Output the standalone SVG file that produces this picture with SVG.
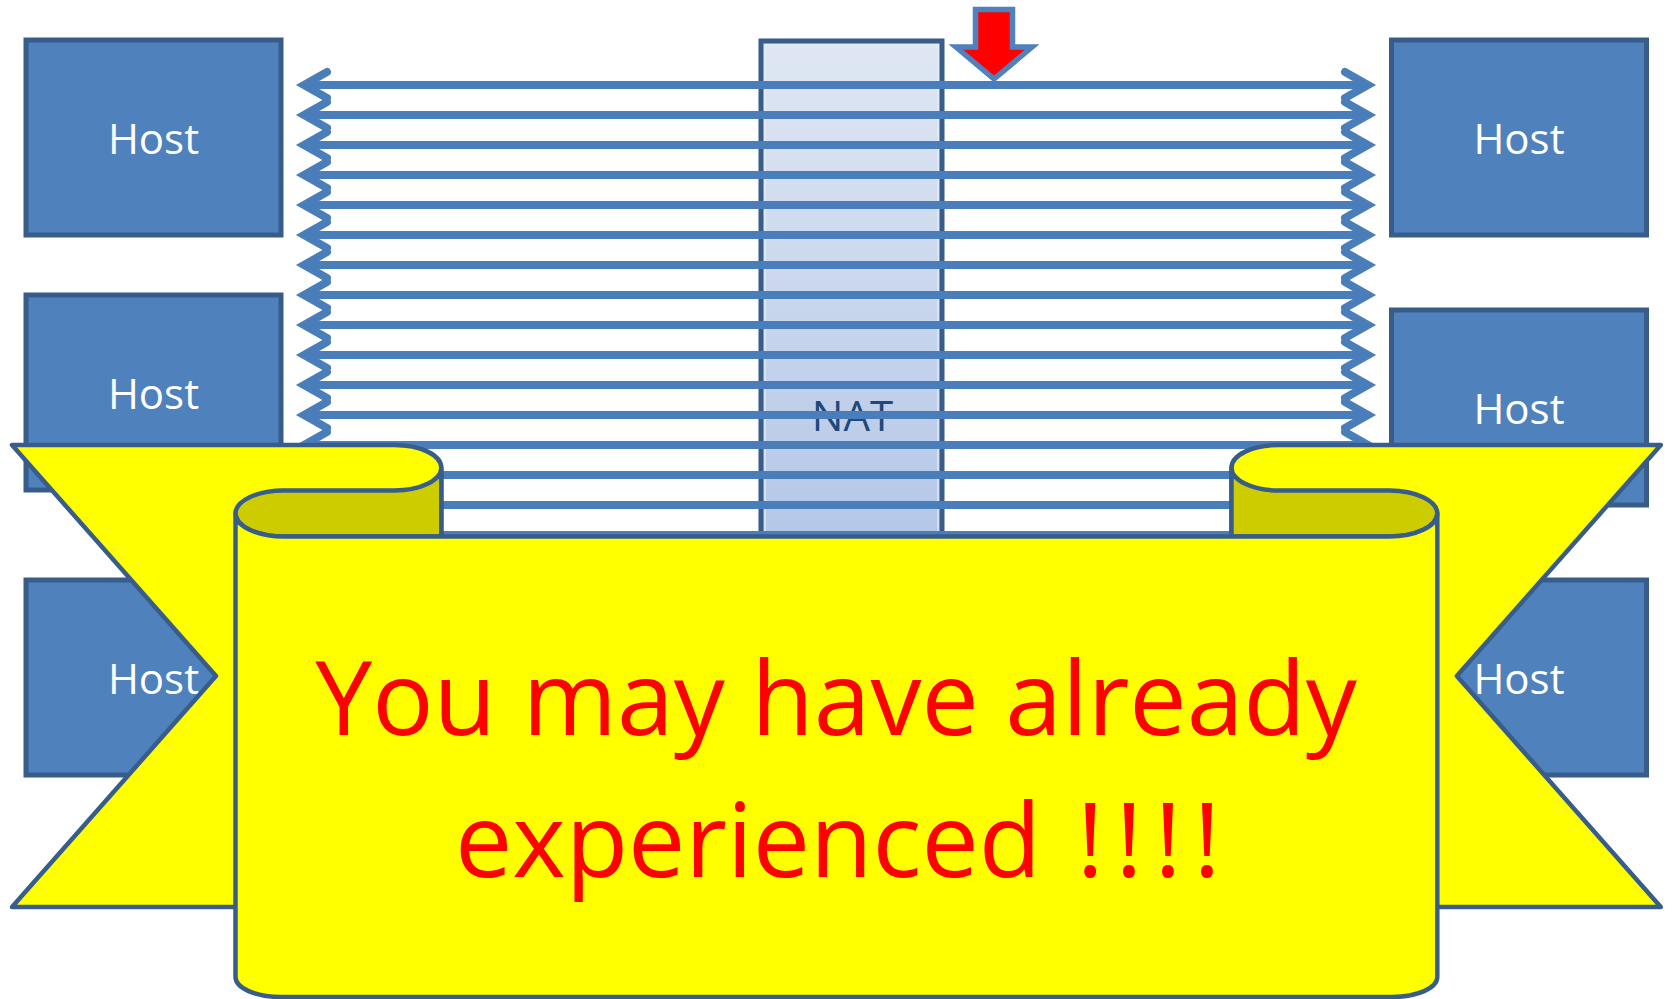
<svg xmlns="http://www.w3.org/2000/svg" width="1672" height="999" viewBox="0 0 1672 999">
<style>
.host rect{fill:#4f81bd;stroke:#385d8a;stroke-width:5}
.host text{font-family:"Open Sans","Liberation Sans",sans-serif;font-size:42px;fill:#ffffff;text-anchor:middle}
.conn path{fill:none;stroke:#4a7ebb;stroke-width:8;marker-start:url(#chev);marker-end:url(#chev)}
.ban{stroke:#385d8a;stroke-width:4.5;stroke-linejoin:round}
.yel{fill:#ffff00}
.oli{fill:#cccc00}
.bt{font-family:"Open Sans","Liberation Sans",sans-serif;font-size:102px;fill:#ff0000}
</style>
<defs>
<linearGradient id="natGrad" x1="0" y1="0" x2="0" y2="1">
<stop offset="0" stop-color="#dfe7f3"/>
<stop offset="1" stop-color="#b4c7e7"/>
</linearGradient>
<marker id="chev" markerUnits="userSpaceOnUse" viewBox="-30 -20 40 40" refX="0" refY="0" markerWidth="40" markerHeight="40" orient="auto-start-reverse" overflow="visible">
<path d="M -23 -13 L 0 0 L -23 13" fill="none" stroke="#4a7ebb" stroke-width="8" stroke-linecap="round" stroke-linejoin="miter"/>
</marker>
</defs>
<rect width="1672" height="999" fill="#ffffff"/>
<g id="host-left-1" class="host"><rect x="26" y="40" width="255" height="195"/><text x="153.5" y="154">Host</text></g>
<g id="host-left-2" class="host"><rect x="26" y="295" width="255" height="195"/><text x="153.5" y="409">Host</text></g>
<g id="host-left-3" class="host"><rect x="26" y="580" width="255" height="195"/><text x="153.5" y="694">Host</text></g>
<g id="host-right-1" class="host"><rect x="1391.5" y="40" width="255" height="195"/><text x="1519" y="154">Host</text></g>
<g id="host-right-2" class="host"><rect x="1391.5" y="310" width="255" height="195"/><text x="1519" y="424">Host</text></g>
<g id="host-right-3" class="host"><rect x="1391.5" y="580" width="255" height="195"/><text x="1519" y="694">Host</text></g>
<g id="nat">
<rect x="761" y="41" width="181" height="500" fill="url(#natGrad)" stroke="#385d8a" stroke-width="5"/>
<rect x="765" y="45" width="173" height="495" fill="none" stroke="#e8eef8" stroke-width="1.5" opacity="0.8"/>
<text x="852.5" y="431" font-family="'Open Sans','Liberation Sans',sans-serif" font-size="42" fill="#1f497d" text-anchor="middle">NAT</text>
</g>
<g id="connectors" class="conn">
<path d="M304 85H1368"/><path d="M304 115H1368"/><path d="M304 145H1368"/><path d="M304 175H1368"/>
<path d="M304 205H1368"/><path d="M304 235H1368"/><path d="M304 265H1368"/><path d="M304 295H1368"/>
<path d="M304 325H1368"/><path d="M304 355H1368"/><path d="M304 385H1368"/><path d="M304 415H1368"/>
<path d="M304 445H1368"/><path d="M304 475H1368"/><path d="M304 505H1368"/><path d="M304 535H1368"/>
</g>
<g id="down-arrow">
<polygon points="975.5,9.5 1012.5,9.5 1012.5,47 1032,47 994,79 956,47 975.5,47" fill="#ff0000" stroke="#4f81bd" stroke-width="5.5" stroke-linejoin="miter"/>
</g>
<g id="banner">
<path class="ban yel" d="M 12 445 L 394.3 445 A 47 22.7 0 0 1 441.3 467.7 L 441.3 907 L 12 907 L 216 676 Z"/>
<path class="ban yel" d="M 1660.8 445 L 1278.5 445 A 47 22.7 0 0 0 1231.5 467.7 L 1231.5 907 L 1660.8 907 L 1456.8 676 Z"/>
<path class="ban oli" d="M 283.5 490.5 L 394.3 490.5 A 47 22.7 0 0 0 441.3 467.7 L 441.3 536.5 L 283.5 536.5 A 48 23 0 0 1 235.5 513.5 A 48 23 0 0 1 283.5 490.5 Z"/>
<path class="ban oli" d="M 1389.3 490.5 L 1278.5 490.5 A 47 22.7 0 0 1 1231.5 467.7 L 1231.5 536.5 L 1389.3 536.5 A 48 23 0 0 0 1437.3 513.5 A 48 23 0 0 0 1389.3 490.5 Z"/>
<path class="ban yel" d="M 235.5 513.5 A 48 23 0 0 0 283.5 536.5 L 1389.3 536.5 A 48 23 0 0 0 1437.3 513.5 L 1437.3 977 A 45 20 0 0 1 1392.3 997 L 280.5 997 A 45 20 0 0 1 235.5 977 Z"/>
<text class="bt" x="836" y="735" text-anchor="middle">You may have already</text>
<text class="bt" x="455" y="877">experienced <tspan dx="9" letter-spacing="12">!!!!</tspan></text>
</g>
</svg>
